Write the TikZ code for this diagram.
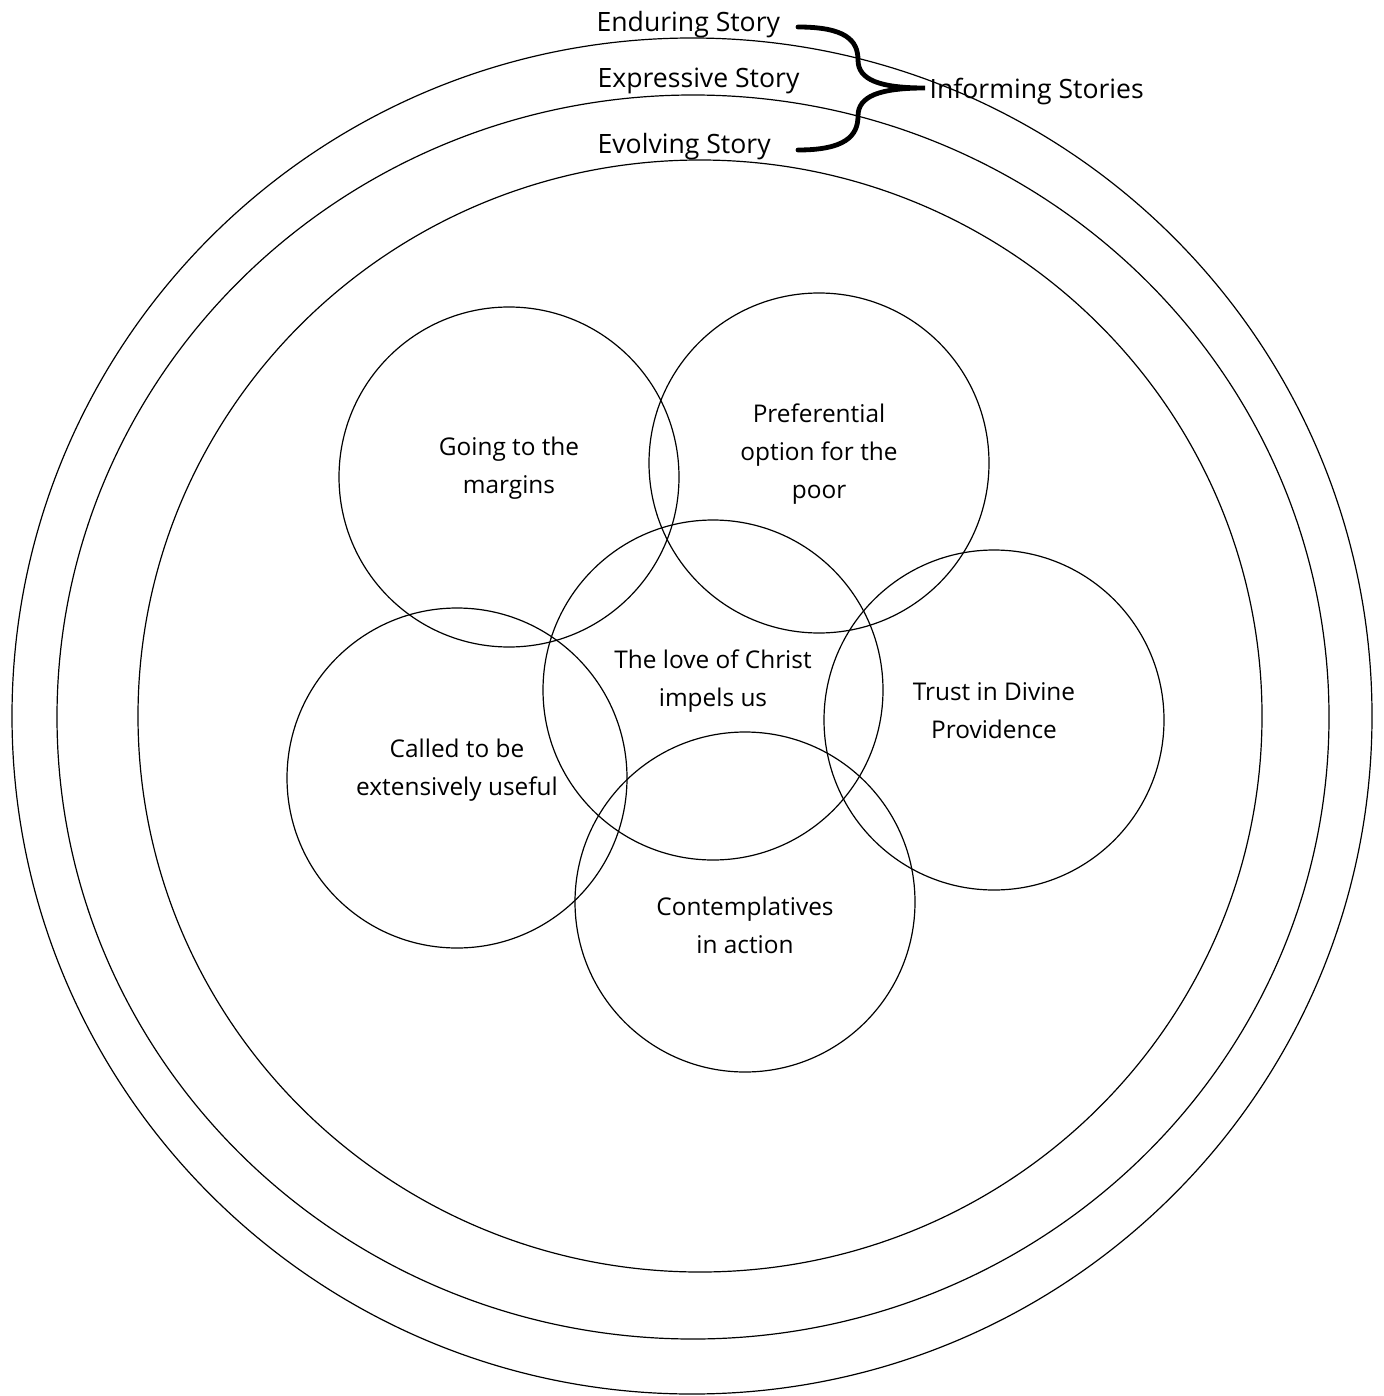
\documentclass[tikz,border=0pt]{standalone}
\usepackage{fontspec}
\setmainfont{Open Sans}
\usetikzlibrary{positioning}
\tikzset{
  story/.style={
	x=0.5pt, y=-0.5pt, % one unit is one pixel of the sketch
	line width=0.6pt,
	every node/.style={font=\fontsize{12.2}{19}\selectfont},
  },
  ring/.style={draw=black, line width=0.6pt}, % the three story rings
  value/.style={circle, draw=black, line width=0.6pt, minimum size=170pt, inner sep=0pt}, % the charism circles
  txt/.style={align=center, inner sep=0pt},
  label/.style={txt, anchor=west, font=\fontsize{13.3}{19}\selectfont}, % story names at the top
  brace/.style={draw=black, line width=2.4pt, line cap=round},
}

\begin{document}
\begin{tikzpicture}[story]
\useasboundingbox (0,0) rectangle (1384,1396);
% story rings
\draw[ring] (692,716) ellipse [x radius=340pt, y radius=339pt];
\draw[ring] (693,717) ellipse [x radius=318pt, y radius=311pt];
\draw[ring] (700,716) ellipse [x radius=281pt, y radius=278pt];
% charism circles
\node[value] (margins) at (509,477) {};
\node[value] (poor) at (819,463) {};
\node[value] (love) at (713,690) {};
\node[value] (trust) at (994,720) {};
\node[value] (useful) at (457,778) {};
\node[value] (action) at (745,902) {};
\node[txt] (margins text) at (509,468) {Going to the\\margins};
\node[txt] (poor text) at (819,454) {Preferential\\option for the\\poor};
\node[txt] (love text) at (713,681) {The love of Christ\\impels us};
\node[txt] (trust text) at (994,711) {Trust in Divine\\Providence};
\node[txt] (useful text) at (457,770) {Called to be\\extensively useful};
\node[txt] (action text) at (745,925) {Contemplatives\\in action};
% story labels
\node[label] (enduring) at (596,25) {Enduring Story};
\node[label] (expressive) at (597,81) {Expressive Story};
\node[label] (evolving) at (597,147) {Evolving Story};
\coordinate (tip) at (925,88);
\node[label] (informing) at (929,92) {Informing Stories};
\draw[brace] (798,27) .. controls (845,27) and (858,40) .. (858,60)
	.. controls (858,80) and (880,88) .. (tip)
	.. controls (880,88) and (858,96) .. (858,116)
	.. controls (858,136) and (845,150) .. (798,150);
\end{tikzpicture}
\end{document}
